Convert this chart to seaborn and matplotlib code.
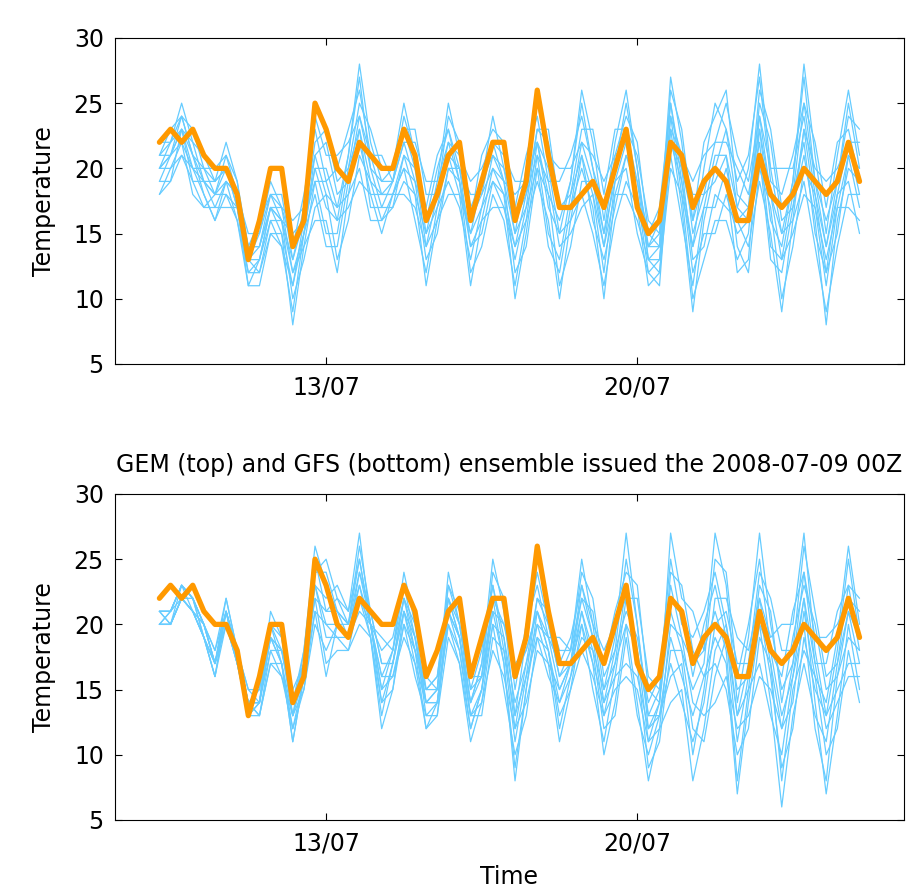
import pandas as pd
import seaborn as sns
import matplotlib.pyplot as plt
import matplotlib.dates as mdates

# 6-hourly forecast steps, 2008-07-09 06Z .. 2008-07-25 00Z
times = pd.date_range('2008-07-09 06:00', periods=64, freq='6h')

# deterministic run (orange, same in both panels)
det = [22, 23, 22, 23, 21, 20, 20, 18, 13, 16,
       20, 20, 14, 16, 25, 23, 20, 19, 22, 21,
       20, 20, 23, 21, 16, 18, 21, 22, 16, 19,
       22, 22, 16, 19, 26, 21, 17, 17, 18, 19,
       17, 20, 23, 17, 15, 16, 22, 21, 17, 19,
       20, 19, 16, 16, 21, 18, 17, 18, 20, 19,
       18, 19, 22, 19]

# GEM ensemble: one row per time step, 12 members
gem_ens = [
    [22, 21, 21, 21, 20, 20, 20, 20, 19, 19, 18, 18],
    [22, 23, 21, 22, 21, 22, 20, 21, 19, 21, 19, 20],
    [23, 24, 24, 25, 22, 24, 21, 23, 23, 23, 21, 22],
    [20, 21, 21, 22, 18, 23, 19, 22, 21, 19, 20, 20],
    [18, 18, 19, 19, 17, 20, 19, 21, 20, 17, 19, 20],
    [16, 16, 17, 18, 18, 18, 18, 19, 20, 17, 19, 19],
    [18, 19, 19, 20, 18, 21, 19, 22, 21, 17, 20, 20],
    [17, 18, 18, 18, 16, 19, 16, 19, 18, 17, 17, 17],
    [13, 14, 14, 15, 12, 14, 11, 13, 13, 13, 11, 12],
    [15, 16, 14, 15, 13, 14, 13, 14, 12, 13, 11, 12],
    [19, 18, 18, 18, 17, 17, 17, 17, 16, 16, 15, 15],
    [17, 18, 16, 17, 16, 17, 15, 16, 14, 16, 14, 15],
    [12, 13, 15, 16, 10, 14, 8, 13, 11, 12, 9, 11],
    [15, 16, 16, 17, 13, 18, 14, 17, 16, 14, 15, 15],
    [18, 19, 20, 21, 17, 23, 19, 24, 22, 16, 20, 21],
    [14, 15, 17, 18, 18, 19, 19, 21, 23, 16, 20, 22],
    [14, 15, 16, 17, 13, 20, 16, 21, 19, 12, 17, 18],
    [19, 20, 21, 21, 16, 23, 17, 22, 20, 18, 18, 19],
    [24, 25, 27, 28, 21, 26, 19, 24, 23, 23, 20, 22],
    [21, 23, 20, 22, 19, 21, 18, 20, 17, 19, 16, 18],
    [21, 20, 19, 19, 18, 18, 18, 17, 17, 16, 16, 15],
    [19, 20, 19, 20, 18, 19, 18, 19, 17, 18, 17, 18],
    [22, 23, 24, 25, 20, 23, 18, 22, 21, 21, 19, 20],
    [19, 20, 21, 21, 16, 23, 17, 22, 20, 18, 18, 19],
    [13, 14, 15, 16, 12, 18, 14, 19, 17, 11, 15, 16],
    [15, 16, 17, 18, 17, 18, 18, 19, 21, 16, 19, 20],
    [20, 20, 21, 22, 19, 24, 21, 25, 23, 18, 22, 23],
    [19, 20, 20, 21, 17, 22, 18, 21, 20, 18, 19, 19],
    [15, 16, 18, 19, 13, 17, 11, 16, 14, 15, 12, 14],
    [19, 21, 18, 20, 17, 19, 16, 18, 15, 17, 14, 16],
    [24, 23, 22, 22, 21, 21, 20, 20, 19, 19, 18, 17],
    [20, 22, 19, 21, 19, 20, 18, 19, 17, 18, 16, 17],
    [15, 16, 18, 19, 12, 17, 10, 15, 14, 14, 11, 13],
    [17, 18, 19, 19, 14, 21, 15, 20, 18, 16, 16, 17],
    [20, 21, 22, 22, 20, 24, 21, 25, 23, 19, 22, 23],
    [14, 15, 17, 18, 18, 19, 19, 21, 23, 16, 20, 22],
    [12, 13, 15, 16, 11, 19, 14, 20, 17, 10, 15, 17],
    [17, 18, 19, 19, 14, 21, 15, 20, 18, 16, 16, 17],
    [22, 23, 25, 26, 19, 24, 17, 22, 21, 21, 18, 20],
    [21, 23, 20, 22, 19, 20, 18, 19, 16, 18, 15, 17],
    [19, 18, 17, 16, 15, 15, 14, 14, 13, 12, 11, 10],
    [21, 23, 20, 22, 19, 21, 18, 20, 17, 19, 16, 18],
    [22, 23, 25, 26, 20, 24, 18, 23, 21, 22, 19, 21],
    [18, 19, 20, 20, 15, 22, 16, 21, 19, 17, 17, 18],
    [12, 13, 13, 14, 12, 15, 13, 16, 15, 11, 14, 14],
    [11, 12, 13, 14, 13, 14, 14, 15, 17, 12, 15, 16],
    [22, 22, 23, 24, 21, 26, 23, 27, 25, 20, 24, 25],
    [19, 20, 21, 21, 16, 23, 17, 22, 20, 18, 18, 19],
    [14, 16, 18, 19, 11, 16, 9, 15, 13, 14, 10, 12],
    [20, 22, 18, 21, 17, 19, 16, 18, 14, 17, 13, 15],
    [25, 24, 22, 22, 21, 20, 20, 19, 18, 17, 16, 15],
    [23, 26, 22, 25, 21, 23, 19, 21, 17, 20, 16, 18],
    [17, 18, 20, 21, 14, 19, 12, 17, 16, 16, 13, 15],
    [16, 17, 18, 19, 12, 21, 13, 20, 17, 14, 15, 16],
    [21, 22, 23, 24, 20, 27, 23, 28, 26, 19, 24, 25],
    [13, 14, 16, 18, 17, 19, 18, 20, 23, 15, 20, 22],
    [12, 13, 14, 15, 10, 18, 13, 20, 17, 9, 15, 16],
    [17, 18, 19, 19, 14, 21, 15, 20, 18, 16, 16, 17],
    [23, 25, 27, 28, 20, 25, 18, 24, 22, 23, 19, 21],
    [20, 22, 19, 21, 18, 19, 17, 18, 15, 17, 14, 16],
    [19, 17, 16, 15, 14, 14, 13, 12, 12, 11, 9, 8],
    [20, 22, 19, 21, 18, 19, 17, 18, 15, 17, 14, 16],
    [22, 23, 25, 26, 19, 24, 17, 22, 21, 21, 18, 20],
    [18, 19, 20, 21, 15, 23, 16, 22, 20, 17, 18, 19],
]

# GFS ensemble: one row per time step, 12 members
gfs_ens = [
    [20, 21, 21, 21, 20, 21, 20, 21, 21, 20, 20, 20],
    [20, 20, 20, 21, 20, 21, 20, 21, 21, 20, 21, 21],
    [22, 22, 22, 22, 22, 23, 23, 23, 23, 22, 23, 23],
    [21, 21, 21, 22, 21, 22, 21, 22, 22, 21, 22, 22],
    [19, 20, 20, 20, 19, 20, 19, 20, 20, 19, 19, 19],
    [17, 17, 18, 18, 16, 17, 16, 17, 17, 17, 16, 17],
    [21, 22, 21, 22, 21, 21, 21, 21, 20, 21, 20, 20],
    [18, 18, 18, 18, 18, 18, 17, 17, 17, 17, 17, 17],
    [14, 15, 14, 15, 14, 14, 14, 14, 13, 14, 13, 13],
    [14, 14, 15, 15, 13, 14, 13, 14, 14, 14, 13, 14],
    [19, 19, 20, 20, 17, 21, 17, 20, 19, 18, 18, 19],
    [17, 17, 17, 18, 16, 19, 17, 19, 18, 16, 18, 18],
    [11, 11, 12, 13, 13, 13, 13, 14, 15, 12, 14, 14],
    [16, 16, 16, 17, 15, 18, 16, 18, 17, 15, 17, 17],
    [22, 23, 24, 24, 20, 26, 21, 25, 23, 21, 22, 23],
    [21, 22, 24, 25, 18, 23, 16, 21, 20, 20, 17, 19],
    [22, 23, 21, 22, 20, 21, 20, 21, 19, 20, 18, 19],
    [21, 21, 20, 20, 20, 20, 19, 19, 19, 19, 18, 18],
    [25, 27, 24, 26, 23, 25, 22, 24, 21, 23, 20, 22],
    [20, 20, 21, 21, 19, 20, 19, 20, 20, 20, 19, 20],
    [15, 16, 17, 17, 12, 19, 13, 18, 16, 14, 14, 15],
    [16, 16, 17, 17, 15, 18, 17, 19, 18, 15, 17, 18],
    [19, 20, 21, 21, 21, 22, 22, 23, 24, 20, 22, 23],
    [17, 18, 18, 19, 17, 20, 18, 21, 20, 16, 19, 19],
    [14, 14, 15, 15, 12, 16, 12, 15, 14, 13, 13, 14],
    [15, 15, 16, 16, 14, 15, 13, 15, 14, 14, 13, 14],
    [23, 24, 22, 23, 21, 22, 21, 22, 20, 21, 19, 20],
    [21, 20, 20, 20, 19, 19, 19, 19, 18, 18, 17, 17],
    [15, 16, 14, 15, 13, 14, 13, 14, 12, 13, 11, 12],
    [16, 16, 17, 18, 14, 17, 13, 16, 15, 15, 14, 15],
    [21, 22, 23, 23, 18, 25, 19, 24, 22, 20, 20, 21],
    [17, 17, 18, 19, 16, 21, 18, 22, 20, 15, 19, 20],
    [8, 9, 11, 12, 12, 13, 13, 15, 17, 10, 14, 16],
    [15, 15, 16, 17, 14, 19, 16, 20, 18, 13, 17, 18],
    [20, 21, 22, 22, 18, 24, 19, 23, 21, 19, 20, 21],
    [19, 19, 20, 21, 17, 20, 16, 19, 18, 18, 17, 18],
    [17, 19, 16, 18, 15, 16, 14, 15, 12, 14, 11, 13],
    [19, 18, 18, 18, 17, 17, 17, 17, 16, 16, 15, 15],
    [23, 25, 22, 24, 21, 23, 20, 22, 19, 21, 18, 20],
    [19, 20, 21, 22, 17, 20, 15, 19, 18, 18, 16, 17],
    [13, 14, 15, 16, 10, 18, 11, 17, 15, 12, 13, 14],
    [15, 16, 17, 18, 14, 20, 16, 21, 19, 13, 17, 18],
    [16, 17, 20, 21, 20, 22, 22, 24, 27, 19, 23, 25],
    [15, 16, 18, 19, 14, 22, 17, 23, 20, 13, 18, 20],
    [11, 12, 13, 14, 8, 16, 9, 15, 13, 10, 11, 12],
    [14, 14, 15, 16, 12, 15, 11, 14, 13, 13, 12, 13],
    [24, 27, 22, 25, 20, 23, 18, 21, 16, 19, 14, 17],
    [23, 22, 21, 20, 19, 19, 18, 18, 17, 16, 15, 14],
    [18, 21, 16, 19, 14, 17, 12, 15, 10, 13, 8, 11],
    [16, 18, 20, 21, 13, 18, 11, 17, 15, 16, 12, 14],
    [19, 21, 23, 24, 14, 27, 16, 25, 22, 17, 18, 20],
    [17, 18, 19, 20, 16, 23, 19, 24, 22, 15, 20, 21],
    [7, 8, 11, 13, 12, 14, 13, 16, 19, 10, 15, 17],
    [14, 15, 16, 17, 13, 19, 15, 20, 18, 12, 16, 17],
    [20, 22, 23, 24, 16, 27, 17, 25, 22, 19, 20, 21],
    [18, 19, 21, 22, 15, 20, 13, 18, 17, 17, 14, 16],
    [16, 20, 14, 18, 12, 15, 10, 13, 8, 12, 6, 9],
    [21, 20, 19, 18, 17, 17, 16, 16, 15, 14, 13, 12],
    [24, 27, 23, 26, 22, 24, 20, 22, 18, 21, 17, 19],
    [17, 18, 20, 21, 14, 19, 12, 17, 16, 16, 13, 15],
    [12, 13, 15, 16, 7, 19, 8, 17, 14, 10, 11, 13],
    [14, 15, 16, 17, 13, 20, 16, 21, 19, 12, 17, 18],
    [16, 17, 19, 21, 20, 22, 21, 23, 26, 18, 23, 25],
    [16, 17, 18, 19, 15, 21, 17, 22, 20, 14, 18, 19],
]

y_ticks = [5, 10, 15, 20, 25, 30]
x_ticks = pd.to_datetime(['2008-07-13', '2008-07-20'])
title = 'GEM (top) and GFS (bottom) ensemble issued the 2008-07-09 00Z'

BLUE = '#66ccff'
ORANGE = '#ff9900'
FS = 17


def long_frame(rows):
    df = pd.DataFrame(rows, index=times)
    df.index.name = 'time'
    return df.reset_index().melt(id_vars='time', var_name='member',
                                 value_name='temp')


sns.set_style('white')
plt.rcParams['font.family'] = ['DejaVu Sans']
plt.rcParams['text.color'] = 'black'
plt.rcParams['axes.labelcolor'] = 'black'

fig = plt.figure(figsize=(9.11, 8.91), dpi=100)
ax1 = fig.add_axes([0.1262, 0.5915, 0.8661, 0.3659])
ax2 = fig.add_axes([0.1262, 0.0797, 0.8661, 0.3659])

for ax, rows in ((ax1, gem_ens), (ax2, gfs_ens)):
    sns.lineplot(data=long_frame(rows), x='time', y='temp', units='member',
                 estimator=None, color=BLUE, lw=0.9, ax=ax)
    sns.lineplot(x=times, y=det, color=ORANGE, lw=3.8, ax=ax)
    ax.set_xlim(times[0] - pd.Timedelta('1D'), times[-1] + pd.Timedelta('1D'))
    ax.set_ylim(5, 30)
    ax.set_yticks(y_ticks)
    ax.set_xticks(x_ticks)
    ax.xaxis.set_major_formatter(mdates.DateFormatter('%d/%m'))
    ax.tick_params(direction='in', length=5, width=0.8, colors='black',
                   top=True, right=True, bottom=True, left=True,
                   labelsize=FS, pad=8)
    for s in ax.spines.values():
        s.set_color('black')
        s.set_linewidth(0.8)
    ax.set_ylabel('Temperature', fontsize=FS, labelpad=13, color='black')
    ax.set_xlabel('')

ax2.set_xlabel('Time', fontsize=FS, labelpad=7, color='black')
ax2.set_title(title, fontsize=FS, pad=16, color='black')

fig.savefig('out.png', dpi=100)
